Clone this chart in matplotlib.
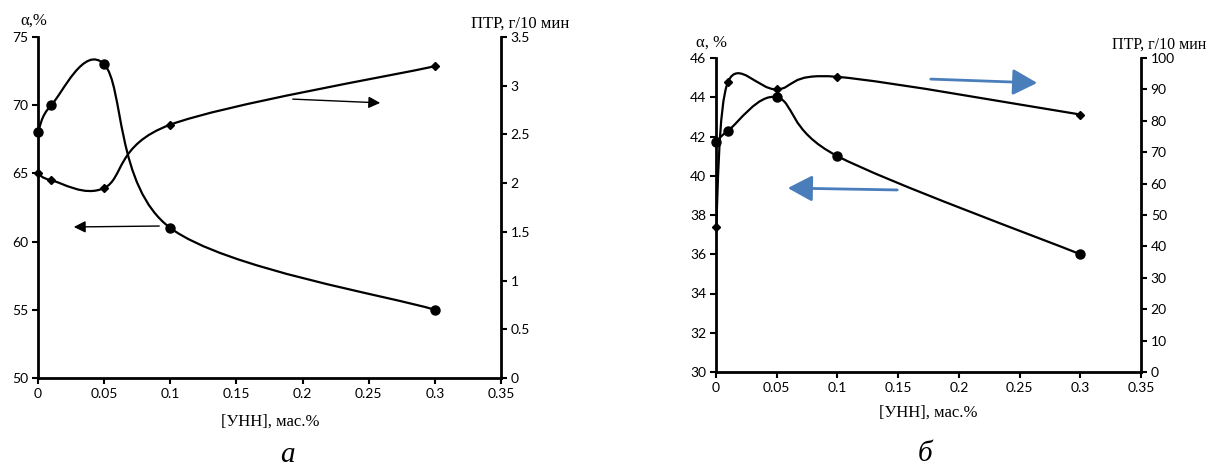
import matplotlib
matplotlib.use("Agg")
import matplotlib.pyplot as plt
import numpy as np
from matplotlib.path import Path
from matplotlib.patches import PathPatch

# data
conc = [0, 0.01, 0.05, 0.1, 0.3]
alpha_a = [68, 70, 73, 61, 55]
ptr_a = [2.1, 2.03, 1.95, 2.6, 3.2]
alpha_b = [41.7, 42.3, 44.0, 41.0, 36.0]
ptr_b = [46.3, 92.5, 90.0, 94.0, 82.0]

xticks = [0, 0.05, 0.1, 0.15, 0.2, 0.25, 0.3, 0.35]

W, H = 1207, 470
TICKFONT = "Lato"
SERIF = "Liberation Serif"
BLUE = "#4a7ebb"


def smooth(ax, x, y, lw=1.6):
    # Excel-like smoothed line: cubic Bezier through the points (Catmull-Rom)
    p = np.column_stack([x, y]).astype(float)
    n = len(p)
    verts = [p[0]]
    codes = [Path.MOVETO]
    for i in range(n - 1):
        p0 = p[i - 1] if i > 0 else p[i]
        p3 = p[i + 2] if i + 2 < n else p[i + 1]
        verts += [p[i] + (p[i + 1] - p0) / 6, p[i + 1] - (p3 - p[i]) / 6, p[i + 1]]
        codes += [Path.CURVE4] * 3
    ax.add_patch(PathPatch(Path(verts, codes), fill=False, lw=lw, ec="black", zorder=3))


def style(ax, side):
    for s in ["top", "left", "right", "bottom"]:
        ax.spines[s].set_visible(False)
    for s in side:
        ax.spines[s].set_visible(True)
        ax.spines[s].set_linewidth(2)
    ax.tick_params(direction="out", length=4, width=1.5, labelsize=10, pad=3)
    for lab in ax.get_xticklabels() + ax.get_yticklabels():
        lab.set_fontfamily(TICKFONT)


def panel(rect, alpha, ptr, ylim, ystep, y2lim, y2step):
    l, t, r, b = rect
    ax = fig.add_axes([l / W, 1 - b / H, (r - l) / W, (b - t) / H])
    ax2 = ax.twinx()
    ax.set_xlim(0, 0.35)
    ax.set_ylim(*ylim)
    ax2.set_ylim(*y2lim)
    ax.set_xticks(xticks)
    ax.set_xticklabels([f"{v:g}" for v in xticks])
    ax.set_yticks(np.arange(ylim[0], ylim[1] + 0.01, ystep))
    yt2 = np.arange(y2lim[0], y2lim[1] + 0.01, y2step)
    ax2.set_yticks(yt2)
    ax2.set_yticklabels([f"{v:g}" for v in yt2])
    ax.patch.set_visible(False)
    smooth(ax, conc, alpha)
    smooth(ax2, conc, ptr)
    ax.plot(conc, alpha, "o", color="black", ms=6.5, zorder=4, clip_on=False)
    ax2.plot(conc, ptr, "D", color="black", ms=4, zorder=4, clip_on=False)
    style(ax, ["left", "bottom"])
    style(ax2, ["right"])
    ax2.tick_params(axis="x", which="both", length=0)
    return ax, ax2


fig = plt.figure(figsize=(W / 100, H / 100), dpi=100)

panel((38, 37, 501, 378), alpha_a, ptr_a, (50, 75), 5, (0, 3.5), 0.5)
panel((716, 58, 1141, 372), alpha_b, ptr_b, (30, 46), 2, (0, 100), 10)


def ftxt(x, y, s, size=12, **kw):
    fig.text(x / W, 1 - y / H, s, fontsize=size, family=SERIF, **kw)


ftxt(34, 21, "α,%", ha="center", va="center")
ftxt(520, 24, "ПТР, г/10 мин", ha="center", va="center")
ftxt(270, 422, "[УНН], мас.%", ha="center", va="center")
ftxt(287, 455, "а", size=21, style="italic", ha="center", va="center")

ftxt(712, 43, "α, %", ha="center", va="center")
ftxt(1206, 45, "ПТР, г/10 мин", size=11.5, ha="right", va="center")
ftxt(928, 413, "[УНН], мас.%", ha="center", va="center")
ftxt(925, 454, "б", size=21, style="italic", ha="center", va="center")


def arrow(x0, y0, x1, y1, color="black", lw=1.0, head=(6, 3)):
    fig.add_artist(matplotlib.patches.FancyArrowPatch(
        (x0, H - y0), (x1, H - y1), transform=None,
        arrowstyle=f"-|>,head_length={head[0] / 1.39},head_width={head[1] / 1.39}",
        color=color, lw=lw, mutation_scale=1.39))


arrow(290, 99, 383, 103, head=(7, 3.5))
arrow(162, 226, 71, 227, head=(7, 3.5))
arrow(928, 79, 1040, 83, color=BLUE, lw=2, head=(15, 8))
arrow(900, 190, 785, 188, color=BLUE, lw=2, head=(15, 8))

fig.savefig("out.png", dpi=100)
